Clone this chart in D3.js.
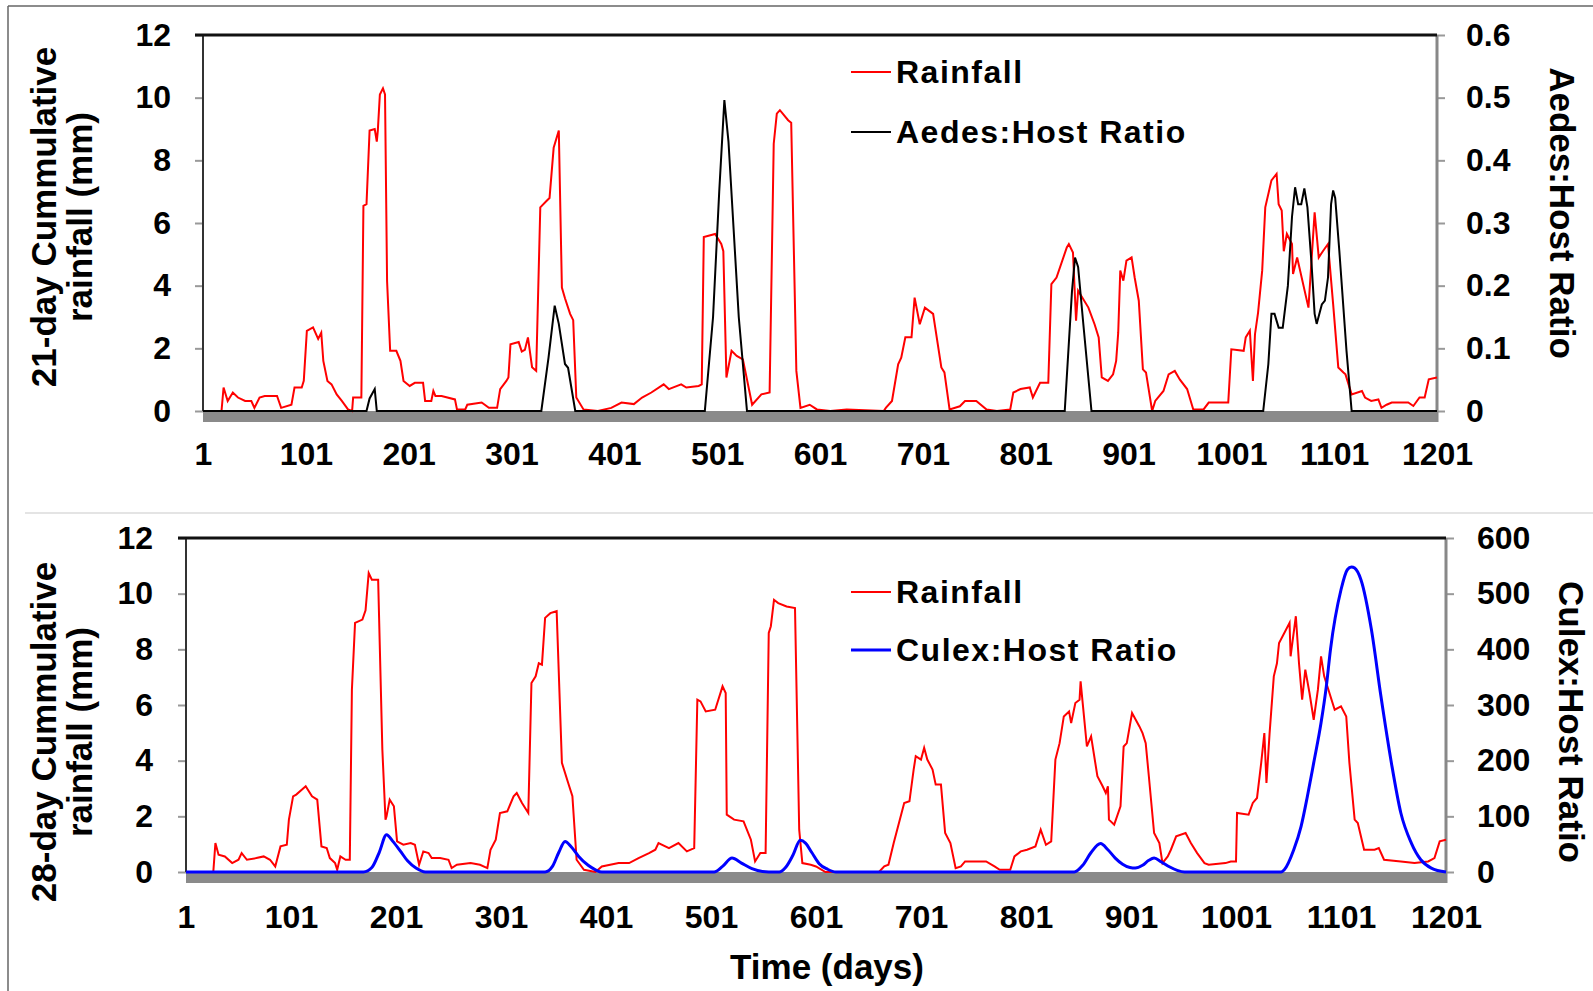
<!DOCTYPE html>
<html>
<head>
<meta charset="utf-8">
<script src="https://cdn.jsdelivr.net/npm/d3@7"></script>
<style>
  body { margin: 0; background: #fff; }
  svg text { font-family: "Liberation Sans", Arial, sans-serif; font-weight: bold; fill: #000; }
</style>
</head>
<body>
<svg id="chart" width="1593" height="991"></svg>
<script>
// tick labels
var dayTicks = [1, 101, 201, 301, 401, 501, 601, 701, 801, 901, 1001, 1101, 1201];
var rainTicks = [0, 2, 4, 6, 8, 10, 12];
var aedesTicks = [0, 0.1, 0.2, 0.3, 0.4, 0.5, 0.6];
var culexTicks = [0, 100, 200, 300, 400, 500, 600];

// 21-day cumulative rainfall (mm), [day, value]
var rain21 = [[19,0],[21,0.75],[25,0.32],[30,0.59],[35,0.43],[42,0.32],[48,0.32],[51,0.1],[56,0.43],[61,0.48],[73,0.48],[77,0.1],[87,0.2],[90,0.75],[97,0.75],[99,0.96],[102,2.56],[108,2.67],[113,2.3],[116,2.5],[118,1.6],[122,0.96],[126,0.85],[131,0.53],[136,0.32],[142,0.05],[146,0],[147,0.43],[155,0.43],[157,6.55],[160,6.6],[163,8.95],[168,9.0],[170,8.6],[171,8.95],[173,10.1],[176,10.3],[178,10.1],[180,4.15],[183,1.92],[189,1.92],[193,1.6],[196,0.96],[202,0.8],[207,0.9],[215,0.9],[217,0.32],[223,0.32],[225,0.64],[227,0.48],[233,0.48],[246,0.37],[248,0.05],[256,0.05],[258,0.2],[272,0.27],[279,0.1],[287,0.1],[290,0.7],[296,0.96],[298,1.07],[300,2.13],[308,2.2],[311,1.9],[314,1.95],[317,2.35],[321,1.4],[325,1.28],[329,6.5],[335,6.7],[338,6.8],[342,8.4],[347,8.95],[350,3.94],[353,3.6],[358,3.1],[361,2.9],[364,0.43],[371,0.05],[385,0],[398,0.1],[408,0.27],[420,0.22],[428,0.43],[437,0.59],[449,0.85],[454,0.7],[466,0.85],[471,0.75],[483,0.8],[486,0.85],[488,5.55],[499,5.65],[505,5.33],[507,5.1],[510,1.07],[515,1.92],[520,1.76],[526,1.65],[535,0.2],[544,0.53],[552,0.59],[556,8.53],[559,9.49],[562,9.6],[570,9.28],[573,9.2],[578,1.28],[582,0.1],[591,0.2],[598,0.05],[611,0],[627,0.05],[663,0],[665,0.1],[671,0.32],[677,1.49],[680,1.7],[684,2.35],[690,2.35],[693,3.62],[698,2.77],[703,3.3],[711,3.1],[719,1.39],[722,1.23],[727,0.05],[737,0.15],[742,0.32],[753,0.32],[763,0.05],[773,0],[786,0.05],[789,0.59],[796,0.7],[805,0.75],[808,0.43],[815,0.9],[823,0.9],[826,4.05],[831,4.26],[841,5.22],[843,5.33],[847,5.06],[850,2.88],[852,3.84],[862,3.3],[868,2.77],[872,2.35],[875,1.07],[881,0.96],[886,1.17],[889,1.6],[891,2.5],[893,4.48],[896,4.16],[899,4.8],[904,4.9],[907,4.26],[911,3.52],[915,1.33],[918,1.23],[924,0],[927,0.32],[935,0.64],[940,1.17],[946,1.28],[951,1.0],[958,0.7],[964,0.05],[974,0.05],[979,0.27],[998,0.27],[1001,1.97],[1013,1.92],[1015,2.35],[1019,2.56],[1022,0.96],[1024,2.45],[1027,3.14],[1031,4.48],[1034,6.5],[1040,7.36],[1045,7.57],[1047,6.6],[1050,6.4],[1052,5.1],[1055,5.65],[1060,5.33],[1061,4.37],[1065,4.9],[1076,3.3],[1082,6.34],[1086,4.9],[1090,5.1],[1095,5.33],[1100,3.41],[1105,1.39],[1110,1.23],[1112,1.17],[1118,0.53],[1128,0.64],[1131,0.43],[1137,0.32],[1144,0.37],[1147,0.1],[1152,0.2],[1157,0.27],[1173,0.27],[1178,0.16],[1184,0.43],[1189,0.43],[1193,1.01],[1201,1.07]];

// Aedes:Host ratio, [day, value]
var aedes = [[1,0],[160,0],[163,0.02],[168,0.035],[170,0],[330,0],[337,0.085],[343,0.168],[347,0.139],[353,0.075],[356,0.069],[363,0],[489,0],[497,0.15],[503,0.35],[508,0.496],[512,0.43],[517,0.29],[522,0.15],[530,0],[839,0],[846,0.19],[849,0.245],[852,0.23],[857,0.14],[865,0],[1032,0],[1037,0.075],[1040,0.155],[1043,0.155],[1047,0.133],[1051,0.133],[1056,0.2],[1060,0.31],[1063,0.357],[1066,0.33],[1069,0.33],[1072,0.355],[1075,0.325],[1079,0.235],[1082,0.155],[1084,0.139],[1089,0.17],[1092,0.176],[1095,0.213],[1098,0.33],[1100,0.352],[1102,0.34],[1106,0.256],[1113,0.096],[1118,0],[1201,0]];

// 28-day cumulative rainfall (mm), [day, value]
var rain28 = [[27,0],[29,1.04],[32,0.62],[38,0.56],[45,0.32],[51,0.44],[54,0.68],[59,0.44],[68,0.5],[75,0.56],[81,0.44],[86,0.2],[91,0.92],[97,0.98],[99,1.88],[103,2.72],[106,2.78],[115,3.08],[121,2.72],[126,2.6],[130,0.92],[135,0.86],[138,0.5],[143,0.32],[145,0.08],[148,0.56],[153,0.44],[157,0.44],[159,6.55],[162,8.95],[169,9.07],[172,9.4],[175,10.74],[178,10.5],[184,10.5],[188,4.4],[191,1.88],[192,2.0],[195,2.6],[199,2.36],[202,1.1],[208,0.98],[215,1.04],[219,0.98],[223,0.26],[227,0.74],[232,0.68],[235,0.5],[243,0.5],[251,0.44],[254,0.14],[259,0.26],[272,0.32],[281,0.26],[288,0.14],[291,0.8],[296,1.16],[300,2.12],[307,2.18],[313,2.72],[316,2.84],[321,2.48],[327,2.12],[330,6.79],[334,7.03],[337,7.5],[340,7.45],[343,9.13],[348,9.3],[354,9.37],[359,3.92],[365,3.2],[369,2.72],[373,0.44],[380,0.08],[391,0],[397,0.2],[413,0.32],[423,0.32],[432,0.5],[442,0.68],[448,0.8],[451,1.04],[461,0.86],[470,1.04],[478,0.74],[485,0.86],[488,6.19],[491,6.13],[496,5.77],[505,5.83],[512,6.67],[515,6.43],[516,2.06],[523,1.88],[532,1.82],[539,1.16],[543,0.38],[548,0.68],[553,0.68],[556,8.59],[558,8.83],[561,9.78],[565,9.66],[573,9.54],[581,9.48],[585,1.52],[588,0.32],[596,0.26],[601,0.2],[610,0],[661,0],[666,0.2],[670,0.26],[675,1.04],[680,1.76],[685,2.48],[690,2.54],[694,3.68],[696,4.16],[701,4.04],[704,4.46],[707,4.04],[712,3.68],[715,3.14],[720,3.14],[724,1.4],[729,1.04],[734,0.14],[739,0.2],[743,0.38],[763,0.38],[771,0.2],[776,0.08],[786,0.08],[790,0.56],[796,0.74],[802,0.8],[810,0.92],[815,1.52],[820,0.98],[825,1.1],[829,4.04],[833,4.63],[837,5.59],[842,5.77],[844,5.35],[848,6.07],[852,6.19],[853,6.85],[855,6.07],[859,4.51],[863,4.87],[869,3.44],[874,3.08],[877,2.84],[879,3.08],[880,1.88],[885,1.7],[891,2.36],[894,4.51],[897,4.63],[902,5.71],[909,5.23],[912,4.99],[915,4.63],[918,3.44],[923,1.4],[928,1.04],[931,0.32],[936,0.56],[939,0.8],[944,1.28],[953,1.4],[958,1.04],[964,0.68],[971,0.32],[975,0.26],[991,0.32],[996,0.38],[1001,0.38],[1002,2.12],[1013,2.06],[1017,2.48],[1021,2.66],[1025,3.92],[1028,4.99],[1030,3.2],[1033,4.99],[1037,7.03],[1040,7.5],[1042,8.23],[1047,8.59],[1052,8.95],[1053,7.75],[1058,9.19],[1061,7.5],[1064,6.19],[1067,7.27],[1071,6.43],[1075,5.47],[1079,6.55],[1082,7.75],[1085,7.03],[1095,5.83],[1101,5.95],[1106,5.59],[1109,3.92],[1114,1.88],[1117,1.76],[1123,0.8],[1133,0.8],[1137,0.86],[1142,0.44],[1158,0.38],[1171,0.32],[1184,0.38],[1190,0.5],[1195,1.1],[1201,1.16]];

// Culex:Host ratio, [day, value]
var culex = [[1,0],[170,0],[178,8],[185,35],[192,67],[198,55],[205,38],[212,20],[220,7],[229,0],[343,0],[350,10],[356,35],[362,55],[368,45],[375,28],[384,12],[391,4],[397,0],[504,0],[512,10],[521,25],[530,16],[540,6],[550,1],[562,0],[566,0],[572,8],[579,30],[586,57],[591,52],[597,35],[604,15],[612,5],[620,0],[847,0],[855,12],[863,35],[872,51],[879,40],[886,25],[893,14],[900,8],[905,7],[912,12],[918,21],[923,25],[930,18],[938,9],[945,3],[952,0],[1044,0],[1047,4],[1056,40],[1063,82],[1069,136],[1075,196],[1082,268],[1087,333],[1091,400],[1101,507],[1107,543],[1111,548],[1114,546],[1120,525],[1130,435],[1139,316],[1149,196],[1158,106],[1168,52],[1177,22],[1187,7],[1201,0]];

var svg = d3.select("#chart");

// outer frame and panel separator
svg.append("line").attr("x1", 8).attr("y1", 6).attr("x2", 1593).attr("y2", 6).attr("stroke", "#666").attr("stroke-width", 1.5);
svg.append("line").attr("x1", 8).attr("y1", 6).attr("x2", 8).attr("y2", 991).attr("stroke", "#666").attr("stroke-width", 1.5);
svg.append("line").attr("x1", 25).attr("y1", 513).attr("x2", 1593).attr("y2", 513).attr("stroke", "#e4e4e4").attr("stroke-width", 2);

function drawPanel(p) {
    var x = d3.scaleLinear().domain([1, 1201]).range([p.left, p.right]);
    var yL = d3.scaleLinear().domain([0, 12]).range([p.zero, p.top]);
    var yR = d3.scaleLinear().domain(p.rDomain).range([p.zero, p.top]);
    var g = svg.append("g");

    // floor band under the zero line
    g.append("rect").attr("x", p.left).attr("y", p.zero).attr("width", p.right - p.left).attr("height", 11).attr("fill", "#8a8a8a");

    // axes
    var ax = g.append("g").attr("transform", "translate(" + p.left + ",0)")
        .call(d3.axisLeft(yL).tickValues(rainTicks).tickSize(8).tickPadding(p.padL));
    var axR = g.append("g").attr("transform", "translate(" + p.right + ",0)")
        .call(d3.axisRight(yR).tickValues(p.rTicks).tickSize(8).tickPadding(p.padR).tickFormat(p.rFormat));
    var axB = g.append("g").attr("transform", "translate(0," + p.zero + ")")
        .call(d3.axisBottom(x).tickValues(dayTicks).tickSize(0).tickPadding(p.padB).tickFormat(d3.format("d")));
    [ax, axR, axB].forEach(function (a) {
        a.select(".domain").remove();
        a.selectAll(".tick line").attr("stroke", "#999").attr("stroke-width", 2);
        a.selectAll("text").style("font-size", "32px");
    });

    // plot frame
    g.append("line").attr("x1", p.left).attr("x2", p.left).attr("y1", p.top).attr("y2", p.zero).attr("stroke", "#333").attr("stroke-width", 2);
    g.append("line").attr("x1", p.right).attr("x2", p.right).attr("y1", p.top).attr("y2", p.zero + 11).attr("stroke", "#888").attr("stroke-width", 3);
    g.append("line").attr("x1", p.left - 8).attr("x2", p.right).attr("y1", p.top).attr("y2", p.top).attr("stroke", "#111").attr("stroke-width", 3);

    var lineL = d3.line().x(function (d) { return x(d[0]); }).y(function (d) { return yL(d[1]); });
    var lineR = d3.line().x(function (d) { return x(d[0]); }).y(function (d) { return yR(d[1]); }).curve(p.curve);

    g.append("path").datum(p.rain).attr("d", lineL).attr("fill", "none").attr("stroke", "#ff0000").attr("stroke-width", 2);
    g.append("path").datum(p.ratio).attr("d", lineR).attr("fill", "none").attr("stroke", p.color).attr("stroke-width", p.width);

    // axis titles
    g.append("text").attr("transform", "translate(56," + p.midL + ") rotate(-90)").attr("text-anchor", "middle").style("font-size", "35px").text(p.titleL1);
    g.append("text").attr("transform", "translate(92," + p.midL + ") rotate(-90)").attr("text-anchor", "middle").style("font-size", "35px").text("rainfall (mm)");
    g.append("text").attr("transform", "translate(" + p.titleRx + "," + p.midR + ") rotate(90)").attr("text-anchor", "middle").style("font-size", "35px").text(p.titleR);

    // legend
    var leg = [["Rainfall", "#ff0000", 2], [p.titleR, p.color, p.width]];
    leg.forEach(function (d, i) {
        var ly = p.legY + i * p.legStep;
        g.append("line").attr("x1", 851).attr("x2", 891).attr("y1", ly).attr("y2", ly).attr("stroke", d[1]).attr("stroke-width", d[2]);
        g.append("text").attr("x", 896).attr("y", ly + 11).style("font-size", "32px").style("letter-spacing", "1.5px").text(d[0]);
    });
}

drawPanel({
    left: 203, right: 1437, top: 35, zero: 411,
    rDomain: [0, 0.6], rTicks: aedesTicks, rFormat: function (d) { return d === 0 ? "0" : d3.format(".1f")(d); },
    padL: 24, padR: 21, padB: 31,
    rain: rain21, ratio: aedes, color: "#000", width: 2, curve: d3.curveLinear,
    titleL1: "21-day Cummulative", titleR: "Aedes:Host Ratio",
    midL: 217, midR: 213, titleRx: 1550,
    legY: 72, legStep: 60
});

drawPanel({
    left: 186, right: 1446, top: 538, zero: 872,
    rDomain: [0, 600], rTicks: culexTicks, rFormat: d3.format("d"),
    padL: 25, padR: 23, padB: 33,
    rain: rain28, ratio: culex, color: "#0000ff", width: 3, curve: d3.curveMonotoneX,
    titleL1: "28-day Cummulative", titleR: "Culex:Host Ratio",
    midL: 732, midR: 722, titleRx: 1559,
    legY: 592, legStep: 58
});

svg.append("text").attr("x", 827).attr("y", 979).attr("text-anchor", "middle").style("font-size", "35px").text("Time (days)");
</script>
</body>
</html>
